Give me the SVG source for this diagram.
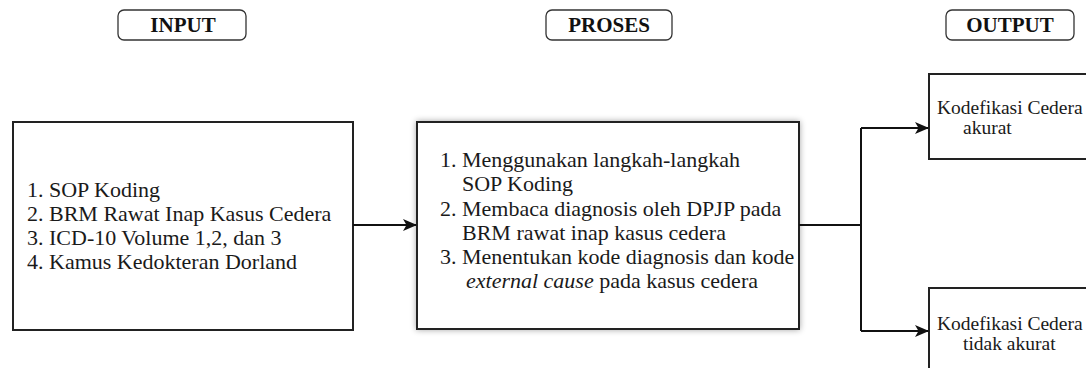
<svg xmlns="http://www.w3.org/2000/svg" width="1086" height="368" viewBox="0 0 1086 368">
<style>
.box{fill:#fff;stroke:#222;stroke-width:2}
.pill{fill:#fff;stroke:#333;stroke-width:1.3}
.hd{font-family:'Liberation Serif','Times New Roman','DejaVu Serif',serif;font-weight:bold;font-size:21px;fill:#111;text-anchor:middle}
.t{font-family:'Liberation Serif','Times New Roman','DejaVu Serif',serif;font-size:22px;fill:#1a1a1a}
.o{font-family:'Liberation Serif','Times New Roman','DejaVu Serif',serif;font-size:19.5px;fill:#1a1a1a}
.c{fill:none;stroke:#111;stroke-width:2}
</style>
<defs>
<marker id="ar" markerWidth="14" markerHeight="12" refX="13" refY="6" orient="auto" markerUnits="userSpaceOnUse">
<path d="M0,0 L14,6 L0,12 L3.5,6 Z" fill="#111"/>
</marker>
<filter id="sh" x="-5%" y="-5%" width="110%" height="110%">
<feGaussianBlur in="SourceAlpha" stdDeviation="3"/>
<feComponentTransfer><feFuncA type="linear" slope="0.35"/></feComponentTransfer>
<feMerge><feMergeNode/><feMergeNode in="SourceGraphic"/></feMerge>
</filter>
</defs>
<g id="hdr-input"><rect class="pill" x="118" y="10" width="128" height="30" rx="6"/><text class="hd" x="183" y="32">INPUT</text></g>
<g id="hdr-proses"><rect class="pill" x="546" y="10" width="126" height="30" rx="6"/><text class="hd" x="609" y="32">PROSES</text></g>
<g id="hdr-output"><rect class="pill" x="946" y="10" width="128" height="30" rx="6"/><text class="hd" x="1010" y="32">OUTPUT</text></g>
<g id="input">
<rect class="box" x="13" y="122" width="340" height="208"/>
<text class="t" x="27" y="197">1. SOP Koding</text>
<text class="t" x="27" y="221">2. BRM Rawat Inap Kasus Cedera</text>
<text class="t" x="27" y="245">3. ICD-10 Volume 1,2, dan 3</text>
<text class="t" x="27" y="269">4. Kamus Kedokteran Dorland</text>
</g>
<g id="proses">
<rect class="box" x="417" y="122" width="382" height="207" filter="url(#sh)"/>
<text class="t" x="440" y="167">1. Menggunakan langkah-langkah</text>
<text class="t" x="462" y="191">SOP Koding</text>
<text class="t" x="440" y="216">2. Membaca diagnosis oleh DPJP pada</text>
<text class="t" x="462" y="240">BRM rawat inap kasus cedera</text>
<text class="t" x="440" y="264">3. Menentukan kode diagnosis dan kode</text>
<text class="t" x="466" y="288"><tspan font-style="italic">external cause</tspan> pada kasus cedera</text>
</g>
<g id="out-akurat">
<rect class="box" x="929" y="74" width="170" height="85"/>
<text class="o" x="937" y="114">Kodefikasi Cedera</text>
<text class="o" x="963" y="134">akurat</text>
</g>
<g id="out-tidak">
<rect class="box" x="929" y="288" width="170" height="100"/>
<text class="o" x="937" y="330">Kodefikasi Cedera</text>
<text class="o" x="963" y="350">tidak akurat</text>
</g>
<g id="connectors">
<line class="c" x1="353" y1="225" x2="416" y2="225" marker-end="url(#ar)"/>
<line class="c" x1="799" y1="225" x2="861" y2="225"/>
<polyline class="c" points="861,128 861,331"/>
<line class="c" x1="861" y1="128" x2="928" y2="128" marker-end="url(#ar)"/>
<line class="c" x1="861" y1="331" x2="928" y2="331" marker-end="url(#ar)"/>
</g>
</svg>
